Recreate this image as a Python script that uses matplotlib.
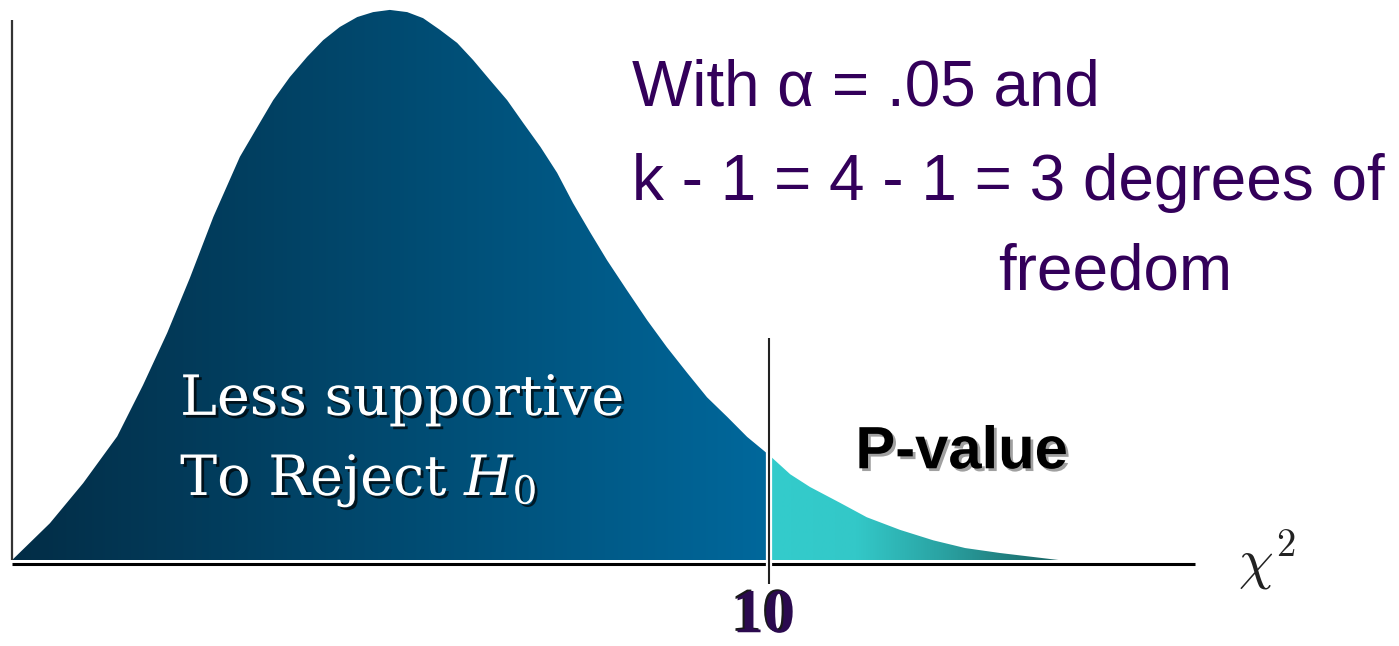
import numpy as np
import matplotlib
matplotlib.use('Agg')
import matplotlib.pyplot as plt
import matplotlib.patheffects as pe
from matplotlib.patches import Polygon
from matplotlib.colors import LinearSegmentedColormap

# curve (chi-square value, relative height)
chi_x = [0.00, 0.50, 0.94, 1.39, 1.73, 2.05, 2.35, 2.66, 3.01, 3.24, 3.45, 3.67,
         3.90, 4.11, 4.33, 4.56, 4.77, 4.99, 5.22, 5.43, 5.65, 5.88, 6.09, 6.31,
         6.54, 6.75, 6.98, 7.20, 7.41, 7.64, 7.86, 8.12, 8.39, 8.65, 8.92, 9.18,
         9.45, 9.71, 10.00, 10.28, 10.54, 10.94, 11.29, 11.73, 12.17, 12.59, 13.05, 13.84]
density = [0.000, 0.067, 0.140, 0.225, 0.318, 0.413, 0.513, 0.624, 0.733, 0.787, 0.836, 0.878,
           0.915, 0.945, 0.969, 0.987, 0.996, 1.000, 0.996, 0.985, 0.964, 0.940, 0.909, 0.873,
           0.836, 0.795, 0.751, 0.704, 0.649, 0.595, 0.545, 0.491, 0.436, 0.387, 0.340, 0.296,
           0.260, 0.224, 0.191, 0.156, 0.133, 0.104, 0.078, 0.055, 0.036, 0.022, 0.013, 0.000]
crit_value = 10.00
crit_label = '10'
axis_end = 15.63

txt_alpha = 'With α = .05 and'
txt_df = 'k - 1 = 4 - 1 = 3 degrees of'
txt_df2 = 'freedom'
txt_body1 = 'Less supportive'
txt_body2 = 'To Reject $H_0$'
txt_tail = 'P-value'
txt_axis = r'$\chi^2$'

fig = plt.figure(figsize=(13.99, 6.46), dpi=100)
ax = fig.add_axes([0, 0, 1, 1])

split = chi_x.index(crit_value)
body_pts = list(zip(chi_x[:split + 1], density[:split + 1])) + [(crit_value, 0.0)]
tail_pts = list(zip(chi_x[split:], density[split:])) + [(crit_value, 0.0)]

body_poly = Polygon(body_pts, closed=True, facecolor='none', edgecolor='none')
tail_poly = Polygon(tail_pts, closed=True, facecolor='none', edgecolor='none')
ax.add_patch(body_poly)
ax.add_patch(tail_poly)

grad = np.linspace(0, 1, 256).reshape(1, -1)
body_cmap = LinearSegmentedColormap.from_list('body', ['#032d46', '#014a70', '#00689c'])
tail_cmap = LinearSegmentedColormap.from_list(
    'tail', [(0, '#33cccc'), (0.3, '#33c8c8'), (0.6, '#2aa2a2'), (1, '#1a6464')])

im1 = ax.imshow(grad, cmap=body_cmap, extent=[chi_x[0], crit_value, 0, max(density)],
                aspect='auto', origin='lower', interpolation='bilinear')
im1.set_clip_path(body_poly)
im2 = ax.imshow(grad, cmap=tail_cmap, extent=[crit_value, chi_x[-1], 0, max(density)],
                aspect='auto', origin='lower', interpolation='bilinear')
im2.set_clip_path(tail_poly)

# axes lines
ax.plot([0, 0], [0, 0.982], color='#333333', lw=1.6, solid_capstyle='butt')
ax.plot([0, axis_end], [-0.0073, -0.0073], color='black', lw=2.2, solid_capstyle='butt')
ax.plot([crit_value, crit_value], [-0.044, 0.404], color='#222222', lw=1.5,
        solid_capstyle='butt',
        path_effects=[pe.Stroke(linewidth=4.5, foreground='white'), pe.Normal()])

purple = '#33005a'
ax.text(8.19, 0.827, txt_alpha, family='Liberation Sans', fontsize=46, color=purple, va='baseline')
ax.text(8.19, 0.655, txt_df, family='Liberation Sans', fontsize=46, color=purple, va='baseline')
ax.text(13.02, 0.491, txt_df2, family='Liberation Sans', fontsize=46, color=purple, va='baseline')

shadow = [pe.withSimplePatchShadow(offset=(2, -2), shadow_rgbFace='black', alpha=0.7)]
ax.text(2.22, 0.264, txt_body1, family='DejaVu Serif', fontsize=40, color='white',
        va='baseline', path_effects=shadow)
ax.text(2.22, 0.118, txt_body2, family='DejaVu Serif', fontsize=40, color='white',
        va='baseline', math_fontfamily='dejavuserif', path_effects=shadow)

ax.text(11.14, 0.167, txt_tail, family='Liberation Sans', fontweight='bold', fontsize=43,
        color='black', va='baseline',
        path_effects=[pe.withSimplePatchShadow(offset=(2, -2), shadow_rgbFace='#888888', alpha=0.8)])

ax.text(9.93, -0.131, crit_label, family='Liberation Serif', fontweight='bold', fontsize=45,
        color='#2b0a4f', ha='center', va='baseline',
        path_effects=[pe.withSimplePatchShadow(offset=(-1.5, 1), shadow_rgbFace='black', alpha=0.9)])

ax.text(16.58, -0.002, txt_axis, fontsize=40, color='#222222', ha='center', va='center',
        math_fontfamily='cm')

ax.set_xlim(-0.1585, 18.32)
ax.set_ylim(-0.156, 1.018)
ax.axis('off')

fig.savefig('out.png', dpi=100, facecolor='white')
